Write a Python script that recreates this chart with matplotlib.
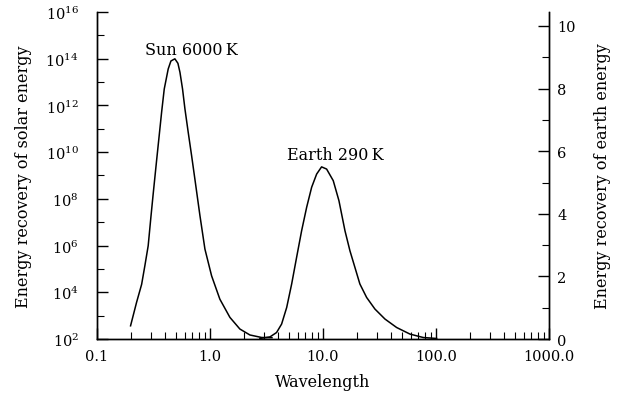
import matplotlib
matplotlib.use('Agg')
import matplotlib.pyplot as plt
import matplotlib.ticker as mticker

plt.rcParams['font.family'] = ['DejaVu Serif']
plt.rcParams['mathtext.fontset'] = 'dejavuserif'
plt.rcParams['font.size'] = 11

# sun curve (left, log axis): wavelength, energy
sun_wl = [0.1986, 0.2244, 0.2489, 0.266, 0.2844, 0.3006, 0.3148, 0.3373, 0.3556,
          0.3741, 0.3945, 0.4276, 0.4519, 0.4898, 0.5212, 0.5433, 0.5728, 0.6012,
          0.6427, 0.6887, 0.7362, 0.8166, 0.9036, 1.035, 1.225, 1.503, 1.841,
          2.259, 2.871, 3.54]
sun_e = [3.7e2, 3.7e3, 2.2e4, 1.4e5, 9.8e5, 1.66e7, 1.6e8, 4.2e9, 4.9e10,
         5.2e11, 5.0e12, 3.6e13, 7.9e13, 9.8e13, 6.3e13, 2.6e13, 5.0e12, 7.1e11,
         7.1e10, 7.1e9, 7.1e8, 1.9e7, 7.1e5, 5.1e4, 5.1e3, 8.5e2, 2.7e2,
         1.5e2, 1.17e2, 1.15e2]

# earth curve (right, linear axis): wavelength, energy
earth_wl = [2.77, 3.40, 3.89, 4.31, 4.78, 5.29, 5.85, 6.48, 7.18, 7.95, 8.80,
            9.73, 10.78, 12.34, 13.86, 15.67, 17.34, 19.19, 21.23, 24.36,
            28.84, 35.4, 44.9, 58.9, 77.3, 101.4]
earth_e = [0.02, 0.07, 0.21, 0.48, 1.01, 1.76, 2.61, 3.46, 4.21, 4.85, 5.27,
           5.50, 5.43, 5.06, 4.42, 3.46, 2.82, 2.29, 1.76, 1.33,
           0.96, 0.64, 0.37, 0.16, 0.05, 0.02]

fig = plt.figure(figsize=(6.21, 4.02), dpi=100)
ax = fig.add_axes([0.156, 0.154, 0.728, 0.814])
ax2 = ax.twinx()

ax.plot(sun_wl, sun_e, color='black', linewidth=1.1, solid_joinstyle='round')
ax2.plot(earth_wl, earth_e, color='black', linewidth=1.1, solid_joinstyle='round')

ax.set_xscale('log')
ax.set_yscale('log')
ax.set_xlim(0.1, 1000)
ax.set_ylim(1e2, 1e16)
ax2.set_ylim(0, 10.45)

ax.xaxis.set_major_locator(mticker.FixedLocator([0.1, 1, 10, 100, 1000]))
ax.xaxis.set_major_formatter(mticker.FixedFormatter(['0.1', '1.0', '10.0', '100.0', '1000.0']))
ax.xaxis.set_minor_locator(mticker.LogLocator(base=10, subs=range(2, 10), numticks=20))
ax.xaxis.set_minor_formatter(mticker.NullFormatter())

ax.yaxis.set_major_locator(mticker.FixedLocator([10.0 ** p for p in range(2, 17, 2)]))
ax.yaxis.set_minor_locator(mticker.FixedLocator([10.0 ** p for p in range(3, 16, 2)]))
ax.yaxis.set_major_formatter(mticker.LogFormatterSciNotation())
ax.yaxis.set_minor_formatter(mticker.NullFormatter())

ax2.yaxis.set_major_locator(mticker.MultipleLocator(2))
ax2.yaxis.set_minor_locator(mticker.MultipleLocator(1))

for a in (ax, ax2):
    a.spines['top'].set_visible(False)
    for s in ['left', 'right', 'bottom']:
        a.spines[s].set_linewidth(1.0)

ax.tick_params(axis='both', which='major', direction='in', length=8, width=1.0, labelsize=10.5)
ax.tick_params(axis='both', which='minor', direction='in', length=5, width=0.8)
ax.tick_params(axis='x', pad=7)
ax.tick_params(axis='y', pad=13)
ax2.tick_params(axis='y', which='major', direction='in', length=8, width=1.0, labelsize=10.5, pad=6)
ax2.tick_params(axis='y', which='minor', direction='in', length=5, width=0.8)

ax.set_xlabel('Wavelength', fontsize=11.5, labelpad=7)
ax.set_ylabel('Energy recovery of solar energy', fontsize=11.5, labelpad=10)
ax2.set_ylabel('Energy recovery of earth energy', fontsize=11.5, labelpad=13)

ax.text(0.68, 1.6e14, 'Sun 6000\u2009K', ha='center', va='baseline', fontsize=11.5)
ax2.text(12.8, 5.75, 'Earth 290\u2009K', ha='center', va='baseline', fontsize=11.5)

fig.savefig('out.png', dpi=100)
